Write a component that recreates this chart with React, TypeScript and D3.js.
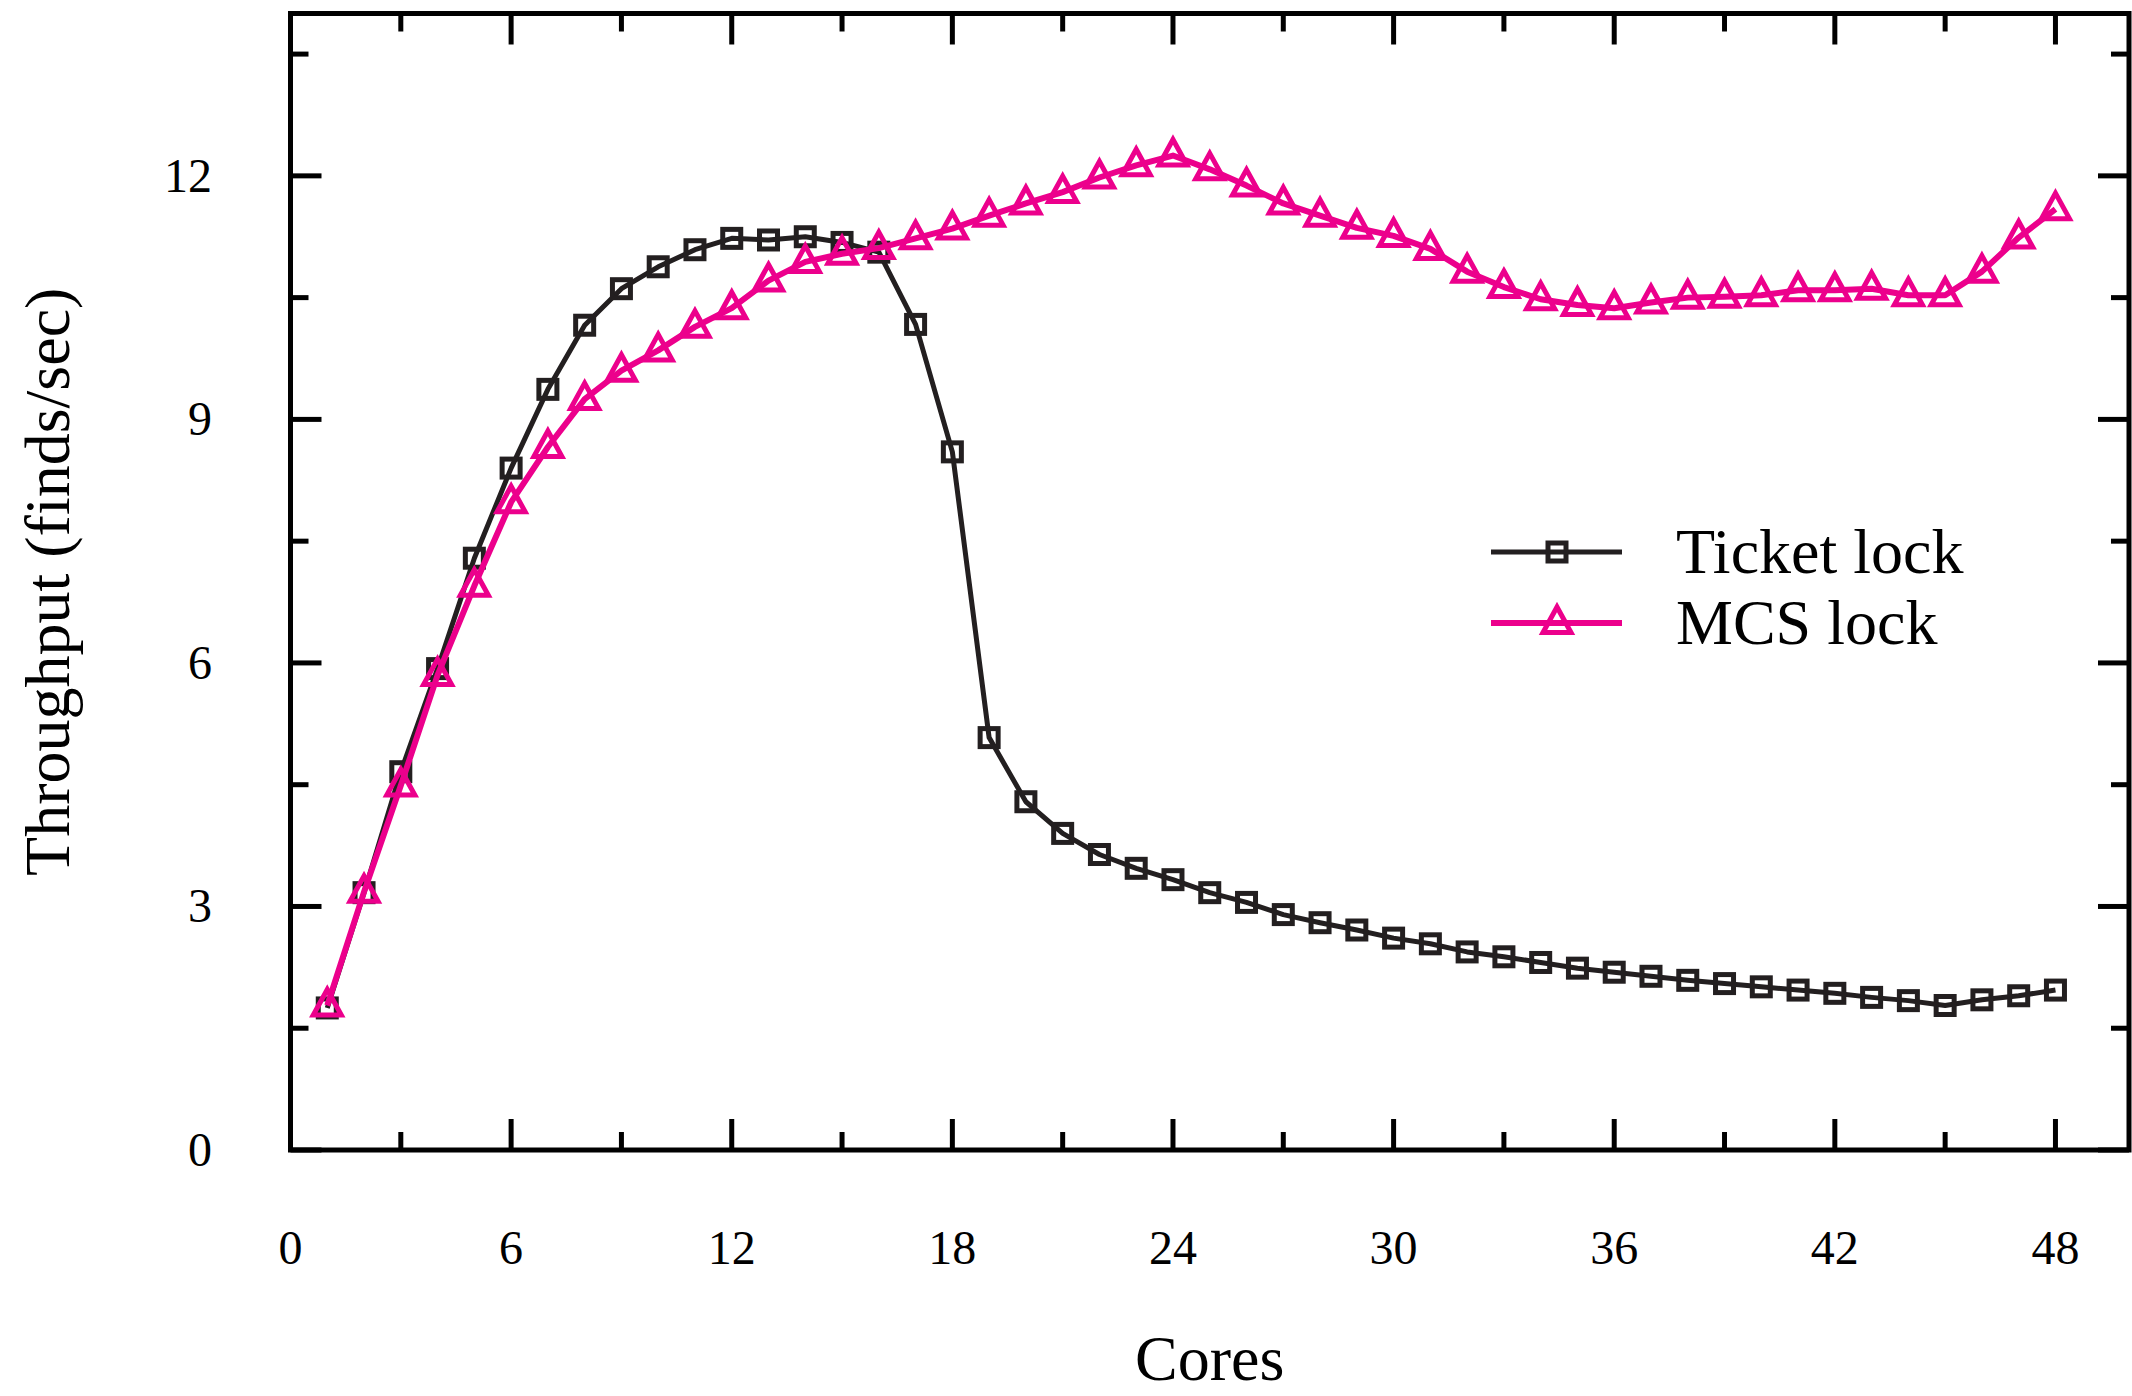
import * as d3 from "d3";

// cores on the x axis
const cores = d3.range(1, 49);

// throughput (finds/sec)
const ticketLock = [
  1.75, 3.17, 4.66, 5.93, 7.29, 8.4, 9.37, 10.16, 10.61, 10.88,
  11.09, 11.23, 11.21, 11.25, 11.18, 11.06, 10.17, 8.6, 5.08, 4.29,
  3.9, 3.64, 3.47, 3.33, 3.17, 3.05, 2.9, 2.8, 2.71, 2.61,
  2.54, 2.44, 2.38, 2.31, 2.24, 2.19, 2.14, 2.09, 2.05, 2.01,
  1.97, 1.93, 1.88, 1.84, 1.78, 1.85, 1.9, 1.97,
];
const mcsLock = [
  1.78, 3.18, 4.49, 5.85, 6.95, 7.98, 8.66, 9.25, 9.6, 9.85,
  10.14, 10.37, 10.71, 10.94, 11.04, 11.11, 11.23, 11.35, 11.51, 11.66,
  11.8, 11.98, 12.13, 12.25, 12.08, 11.88, 11.66, 11.51, 11.36, 11.26,
  11.1, 10.82, 10.63, 10.48, 10.41, 10.37, 10.44, 10.5, 10.51, 10.53,
  10.59, 10.59, 10.61, 10.53, 10.53, 10.82, 11.24, 11.59,
];

const xMajor = [0, 6, 12, 18, 24, 30, 36, 42, 48];
const xMinor = [3, 9, 15, 21, 27, 33, 39, 45];
const yMajor = [0, 3, 6, 9, 12];
const yMinor = [1.5, 4.5, 7.5, 10.5, 13.5];

const seriesNames = ["Ticket lock", "MCS lock"];

const W = 2132;
const H = 1396;
const left = 290.5, right = 2129, top = 13.5, bottom = 1150;

const BLACK = "#231f20";
const PINK = "#ec008c";
const FONT = "'Liberation Serif', 'Times New Roman', serif";

const x = d3.scaleLinear().domain([0, 50]).range([left, right]);
const y = d3.scaleLinear().domain([0, 14]).range([bottom, top]);

const line = d3
  .line<number>()
  .x((_, i) => x(cores[i]))
  .y((d) => y(d));

const tri = (cx: number, cy: number) =>
  `M${cx},${cy - 16}L${cx + 14},${cy + 9.5}L${cx - 14},${cy + 9.5}Z`;

const Square = ({ cx, cy }: { cx: number; cy: number }) => (
  <rect x={cx - 9} y={cy - 9} width={18} height={18} fill="none" stroke={BLACK} strokeWidth={5} />
);

const App = () => {
  const major = 31;
  const minor = 18;
  const legX0 = 1491, legX1 = 1622, legMid = 1557;
  const legY = [552, 623];

  return (
    <svg
      width={W}
      height={H}
      style={{ position: "absolute", left: 0, top: 0, background: "#fff" }}
      fontFamily={FONT}
    >
      <rect width={W} height={H} fill="#fff" />

      {/* ticks, inward on all four sides */}
      <g stroke="#000" strokeWidth={5}>
        {xMajor.map((t) => (
          <g key={"xM" + t}>
            <line x1={x(t)} x2={x(t)} y1={bottom} y2={bottom - major} />
            <line x1={x(t)} x2={x(t)} y1={top} y2={top + major} />
          </g>
        ))}
        {xMinor.map((t) => (
          <g key={"xm" + t}>
            <line x1={x(t)} x2={x(t)} y1={bottom} y2={bottom - minor} />
            <line x1={x(t)} x2={x(t)} y1={top} y2={top + minor} />
          </g>
        ))}
        {yMajor.map((t) => (
          <g key={"yM" + t}>
            <line x1={left} x2={left + major} y1={y(t)} y2={y(t)} />
            <line x1={right} x2={right - major} y1={y(t)} y2={y(t)} />
          </g>
        ))}
        {yMinor.map((t) => (
          <g key={"ym" + t}>
            <line x1={left} x2={left + minor} y1={y(t)} y2={y(t)} />
            <line x1={right} x2={right - minor} y1={y(t)} y2={y(t)} />
          </g>
        ))}
      </g>

      {/* frame */}
      <rect
        x={left}
        y={top}
        width={right - left}
        height={bottom - top}
        fill="none"
        stroke="#000"
        strokeWidth={5}
      />

      {/* tick labels */}
      <g fontSize={48} fill="#000">
        {xMajor.map((t) => (
          <text key={"xl" + t} x={x(t)} y={1264} textAnchor="middle">
            {t}
          </text>
        ))}
        {yMajor.map((t) => (
          <text key={"yl" + t} x={212} y={y(t) + 16} textAnchor="end">
            {t}
          </text>
        ))}
      </g>

      {/* axis titles */}
      <text x={(left + right) / 2} y={1380} fontSize={64} textAnchor="middle">
        Cores
      </text>
      <text
        transform={`translate(69,${(top + bottom) / 2}) rotate(-90)`}
        fontSize={64}
        textAnchor="middle"
      >
        Throughput (finds/sec)
      </text>

      {/* Ticket lock */}
      <path d={line(ticketLock) || ""} fill="none" stroke={BLACK} strokeWidth={5} strokeLinejoin="round" />
      {ticketLock.map((v, i) => (
        <Square key={"s" + i} cx={x(cores[i])} cy={y(v)} />
      ))}

      {/* MCS lock */}
      <path d={line(mcsLock) || ""} fill="none" stroke={PINK} strokeWidth={6} strokeLinejoin="round" />
      {mcsLock.map((v, i) => (
        <path key={"t" + i} d={tri(x(cores[i]), y(v))} fill="none" stroke={PINK} strokeWidth={5} />
      ))}

      {/* legend */}
      <line x1={legX0} x2={legX1} y1={legY[0]} y2={legY[0]} stroke={BLACK} strokeWidth={5} />
      <Square cx={legMid} cy={legY[0]} />
      <line x1={legX0} x2={legX1} y1={legY[1]} y2={legY[1]} stroke={PINK} strokeWidth={6} />
      <path d={tri(legMid, legY[1])} fill="none" stroke={PINK} strokeWidth={5} />
      {seriesNames.map((n, i) => (
        <text key={n} x={1676} y={legY[i] + 21} fontSize={64}>
          {n}
        </text>
      ))}
    </svg>
  );
};

export default App;
